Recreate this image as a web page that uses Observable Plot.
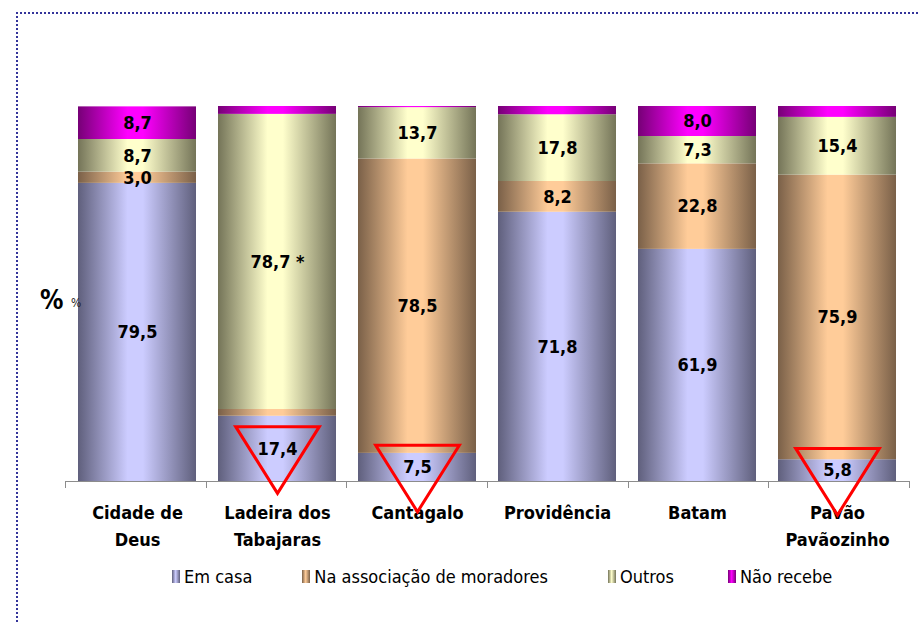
<!DOCTYPE html>
<html><head><meta charset="utf-8">
<script src="https://cdn.jsdelivr.net/npm/d3@7"></script>
<script src="https://cdn.jsdelivr.net/npm/@observablehq/plot@0.6"></script>
<style>
html,body{margin:0;padding:0;background:#fff;width:918px;height:624px;overflow:hidden;}
body{position:relative;font-family:Tahoma,"DejaVu Sans Condensed","DejaVu Sans",sans-serif;}
#frame{position:absolute;left:16px;top:12px;width:1000px;height:700px;border-left:2px dotted #34349a;border-top:2px dotted #34349a;}
#chart{position:absolute;left:0;top:0;}
#pct{position:absolute;left:40px;top:285px;font-weight:bold;font-size:26px;color:#000;}
#pct2{position:absolute;left:71px;top:296px;font-size:12px;color:#222;}
#legend{position:absolute;top:566px;left:172px;display:flex;gap:50px;font-size:18px;color:#000;white-space:nowrap;}
#legend .item{display:flex;align-items:center;gap:4px;}
#legend .item:nth-child(3){margin-left:10px;}
#legend .item:nth-child(4){margin-left:4px;}
#legend .sw{width:8px;height:13px;display:inline-block;}
</style>
</head><body>
<div id="frame"></div>
<div id="chart"></div>
<div id="pct">%</div><div id="pct2">%</div>
<div id="legend"></div>
<script>
const categories = ["Cidade de\nDeus","Ladeira dos\nTabajaras","Cantagalo","Providência","Batam","Pavão\nPavãozinho"];
const series = ["Em casa","Na associação de moradores","Outros","Não recebe"];
const emCasa     = [79.5, 17.4,  7.5, 71.8, 61.9,  5.8];
const associacao = [ 3.0,  1.8, 78.5,  8.2, 22.8, 75.9];
const outros     = [ 8.7, 78.7, 13.7, 17.8,  7.3, 15.4];
const naoRecebe  = [ 8.7,  2.1,  0.3,  2.2,  8.0,  2.9];
const starred = [["Ladeira dos\nTabajaras","Outros"]];
const highlighted = ["Ladeira dos\nTabajaras","Cantagalo","Pavão\nPavãozinho"];
const lightColors = ["#ccccff","#ffcc99","#ffffcc","#ff00ff"];
const darkColors  = ["#5f5f7c","#7a6048","#747458","#760076"];

const valuesBySeries = [emCasa, associacao, outros, naoRecebe];
const fmt = v => v.toFixed(1).replace(".", ",");
const data = [];
categories.forEach((c, i) => {
  series.forEach((s, j) => {
    const v = valuesBySeries[j][i];
    const star = starred.some(([sc, ss]) => sc === c && ss === s);
    data.push({category: c, series: s, value: v, label: v >= 3 ? fmt(v) + (star ? " *" : "") : ""});
  });
});
const tri = highlighted.map(c => ({category: c, y: emCasa[categories.indexOf(c)] / 2}));

const invTriangle = {draw(ctx, size) {
  const r = Math.sqrt(size / Math.PI), w = 2.7 * r, h = 2.15 * r;
  ctx.moveTo(-w / 2, -h / 3); ctx.lineTo(w / 2, -h / 3); ctx.lineTo(0, 2 * h / 3); ctx.closePath();
}};

const font = 'Tahoma,"DejaVu Sans Condensed","DejaVu Sans",sans-serif';
const plot = Plot.plot({
  width: 918, height: 560,
  marginLeft: 65, marginRight: 9, marginTop: 106, marginBottom: 79,
  style: {fontFamily: font, background: "transparent", overflow: "visible"},
  x: {domain: categories, paddingInner: 0.16, paddingOuter: 0.08, axis: null, label: null},
  y: {domain: [0, 100], axis: null},
  color: {domain: series, range: series.map((s, j) => `url(#grad${j})`)},
  marks: [
    Plot.barY(data, Plot.stackY({x: "category", y: "value", fill: "series"})),
    Plot.ruleY([0], {stroke: "#8c8c8c", strokeWidth: 1}),
    (index, scales, values, dims) => {
      const g = d3.create("svg:g").attr("stroke", "#8c8c8c");
      const left = dims.marginLeft, right = dims.width - dims.marginRight;
      const step = (right - left) / categories.length, y0 = scales.y(0);
      for (let i = 0; i <= categories.length; i++) {
        const px = Math.round(left + i * step) + 0.5;
        g.append("line").attr("x1", px).attr("x2", px).attr("y1", y0).attr("y2", y0 + 7);
      }
      return g.node();
    },
    Plot.axisX({label: null, tickSize: 0, tickPadding: 18, fontSize: 18, fontWeight: "bold", lineHeight: 1.5, fill: "#000"}),
    Plot.dot(tri, {x: "category", y: "y", symbol: invTriangle, r: 31, stroke: "red", strokeWidth: 3, fill: "none"}),
    Plot.text(data, Plot.stackY({x: "category", y: "value", text: "label", fontSize: 18, fontWeight: "bold", fill: "#000"}))
  ]
});
const defs = d3.select(plot).insert("defs", ":first-child");
series.forEach((s, j) => {
  const lg = defs.append("linearGradient").attr("id", `grad${j}`).attr("x1", 0).attr("x2", 1).attr("y1", 0).attr("y2", 0);
  [[0, darkColors[j]], [0.42, lightColors[j]], [0.55, lightColors[j]], [1, darkColors[j]]].forEach(([o, c]) =>
    lg.append("stop").attr("offset", o).attr("stop-color", c));
});
document.getElementById("chart").appendChild(plot);

const legend = d3.select("#legend");
series.forEach((s, j) => {
  const it = legend.append("div").attr("class", "item");
  it.append("span").attr("class", "sw").style("background", `linear-gradient(to right, ${darkColors[j]}, ${lightColors[j]} 45%, ${darkColors[j]})`);
  it.append("span").text(s);
});
</script>
</body></html>
